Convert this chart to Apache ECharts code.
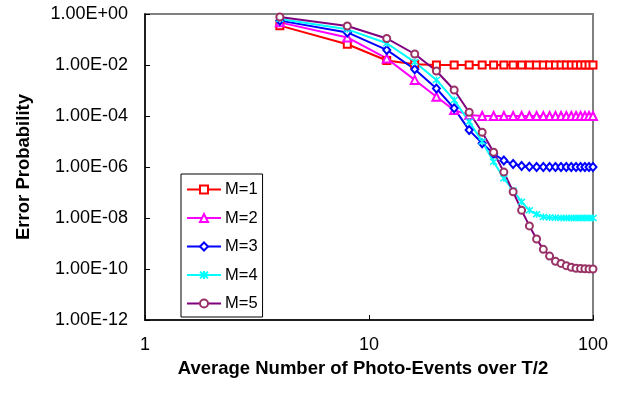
<!DOCTYPE html>
<html>
<head>
<meta charset="utf-8">
<script src="https://cdn.jsdelivr.net/npm/echarts@6/dist/echarts.min.js"></script>
<style>
html,body{margin:0;padding:0;background:#fff;}
#chart{width:623px;height:396px;}
</style>
</head>
<body>
<div id="chart"></div>
<script>
var xValues = [4, 8, 12, 16, 20, 24, 28, 32, 36, 40, 44, 48, 52, 56, 60, 64, 68, 72, 76, 80, 84, 88, 92, 96, 100];
var seriesNames = ['M=1', 'M=2', 'M=3', 'M=4', 'M=5'];
var m1 = [0.35, 0.065, 0.015, 0.0107, 0.01, 0.01, 0.01, 0.01, 0.01, 0.01, 0.01, 0.01, 0.01, 0.01, 0.01, 0.01, 0.01, 0.01, 0.01, 0.01, 0.01, 0.01, 0.01, 0.01, 0.01];
var m2 = [0.47, 0.12, 0.018, 2.6e-3, 5.7e-4, 1.7e-4, 1.1e-4, 1e-4, 1e-4, 1e-4, 1e-4, 1e-4, 1e-4, 1e-4, 1e-4, 1e-4, 1e-4, 1e-4, 1e-4, 1e-4, 1e-4, 1e-4, 1e-4, 1e-4, 1e-4];
var m3 = [0.55, 0.19, 0.039, 6.8e-3, 1.2e-3, 2e-4, 2.8e-5, 8.5e-6, 3.3e-6, 1.8e-6, 1.3e-6, 1.1e-6, 1.03e-6, 1e-6, 1e-6, 1e-6, 1e-6, 1e-6, 1e-6, 1e-6, 1e-6, 1e-6, 1e-6, 1e-6, 1e-6];
var m4 = [0.64, 0.25, 0.071, 0.013, 2.6e-3, 4.2e-4, 6e-5, 1e-5, 1.6e-6, 3.6e-7, 1.2e-7, 4.3e-8, 2e-8, 1.4e-8, 1.1e-8, 1.05e-8, 1.02e-8, 1.01e-8, 1e-8, 1e-8, 1e-8, 1e-8, 1e-8, 1e-8, 1e-8];
var m5 = [0.76, 0.34, 0.11, 0.027, 5.8e-3, 1.05e-3, 1.4e-4, 2.3e-5, 3.8e-6, 6.3e-7, 1.07e-7, 2e-8, 4.9e-9, 1.5e-9, 5.9e-10, 3.2e-10, 2e-10, 1.66e-10, 1.35e-10, 1.17e-10, 1.07e-10, 1.04e-10, 1.02e-10, 1.01e-10, 1e-10];
var xTickLabels = ['1', '10', '100'];

var FONT = 'Liberation Sans, Arial, sans-serif';
function pairs(ys) { return xValues.map(function (x, i) { return [x, ys[i]]; }); }
function yFmt(v) {
  var e = Math.round(Math.log10(v));
  var s = e < 0 ? '-' : '+';
  var a = Math.abs(e);
  return '1.00E' + s + (a < 10 ? '0' + a : '' + a);
}

var chart = echarts.init(document.getElementById('chart'), null, {renderer: 'canvas'});
var starPath = 'path://M0,0L10,10M10,0L0,10M5,-1L5,11';
chart.setOption({
  animation: false,
  backgroundColor: '#fff',
  grid: {left: 145, right: 30, top: 14, bottom: 76, show: true, borderColor: '#808080', borderWidth: 2, backgroundColor: 'transparent'},
  xAxis: {
    type: 'log', logBase: 10, min: 1, max: 100,
    name: 'Average Number of Photo-Events over T/2', nameLocation: 'middle', nameGap: 39,
    nameTextStyle: {fontFamily: FONT, fontWeight: 'bold', fontSize: 18.5, color: '#000', padding: [0, 12, 0, 0]},
    axisLine: {show: true, lineStyle: {color: '#000', width: 1.5}},
    axisTick: {show: true, inside: true, length: 5, lineStyle: {color: '#000'}},
    minorTick: {show: false},
    splitLine: {show: false},
    axisLabel: {fontFamily: FONT, fontSize: 18, color: '#000', margin: 16,
      formatter: function (v) { var e = Math.round(Math.log10(v)); return xTickLabels[e]; }}
  },
  yAxis: {
    type: 'log', logBase: 100, min: 1e-12, max: 1,
    name: 'Error Probability', nameLocation: 'middle', nameGap: 112,
    nameTextStyle: {fontFamily: FONT, fontWeight: 'bold', fontSize: 18.5, color: '#000'},
    axisLine: {show: true, lineStyle: {color: '#000', width: 1.5}},
    axisTick: {show: true, inside: true, length: 5, lineStyle: {color: '#000'}},
    splitLine: {show: false},
    axisLabel: {fontFamily: FONT, fontSize: 18, color: '#000', margin: 17, formatter: yFmt}
  },
  legend: {
    orient: 'vertical', left: 181, top: 174,
    backgroundColor: '#fff', borderColor: '#000', borderWidth: 1,
    padding: [7, 5, 5, 5], itemGap: 11.5, itemWidth: 34, itemHeight: 10,
    textStyle: {fontFamily: FONT, fontSize: 16.5, color: '#000', lineHeight: 16, padding: [0, 0, 0, -1]},
    data: seriesNames
  },
  series: [
    {name: seriesNames[0], type: 'line', data: pairs(m1), symbol: 'emptyRect', symbolSize: 7,
      lineStyle: {color: '#FF0000', width: 2}, itemStyle: {color: '#FF0000', borderWidth: 1.2}},
    {name: seriesNames[1], type: 'line', data: pairs(m2), symbol: 'emptyTriangle', symbolSize: 8,
      lineStyle: {color: '#FF00FF', width: 2}, itemStyle: {color: '#FF00FF', borderWidth: 1.2}},
    {name: seriesNames[2], type: 'line', data: pairs(m3), symbol: 'emptyDiamond', symbolSize: [7, 8],
      lineStyle: {color: '#0000FF', width: 2}, itemStyle: {color: '#0000FF', borderWidth: 1.2}},
    {name: seriesNames[3], type: 'line', data: pairs(m4), symbol: starPath, symbolSize: 7,
      lineStyle: {color: '#00FFFF', width: 2}, itemStyle: {color: '#00FFFF', borderColor: '#00FFFF', borderWidth: 1.5}},
    {name: seriesNames[4], type: 'line', data: pairs(m5), symbol: 'emptyCircle', symbolSize: 7,
      lineStyle: {color: '#800080', width: 2}, itemStyle: {color: '#993366', borderWidth: 1.2}}
  ]
});
</script>
</body>
</html>
